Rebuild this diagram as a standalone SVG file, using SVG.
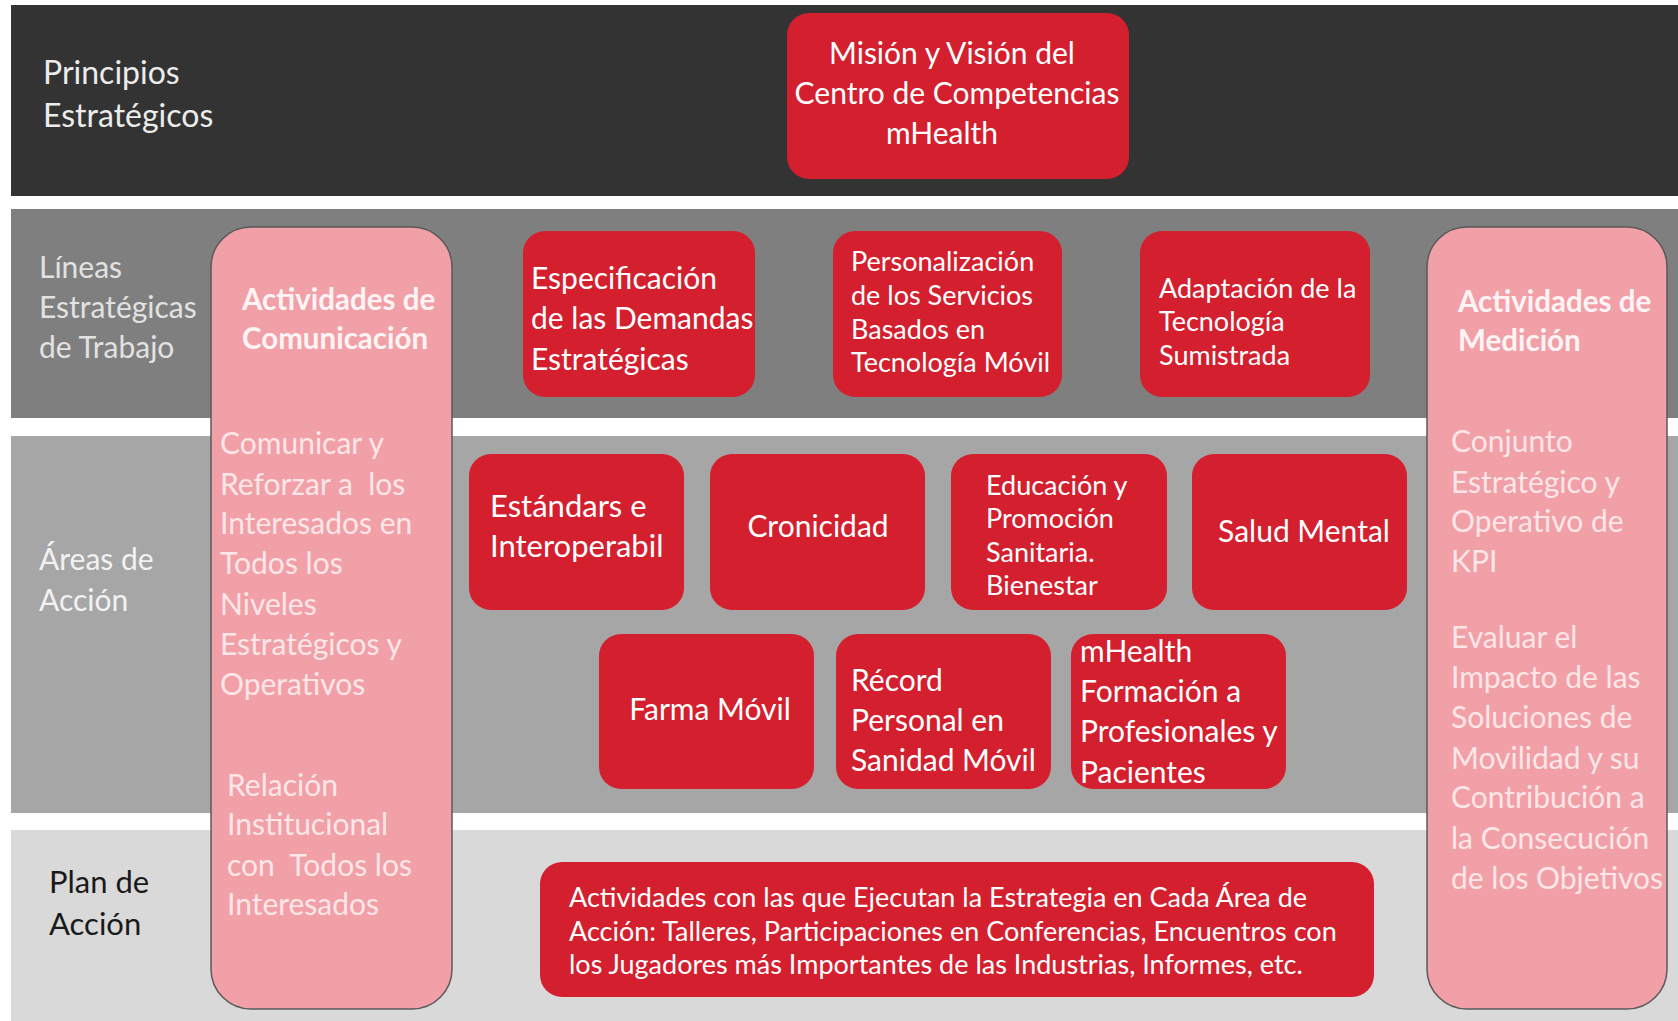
<svg xmlns="http://www.w3.org/2000/svg" width="1678" height="1021" viewBox="0 0 1678 1021">
<style>
text{font-family:Lato,"Liberation Sans",sans-serif;}
.band-label{font-size:30px;fill:#ececec;}
.dark-label{font-size:31px;fill:#1a1a1a;}
.red{fill:#d41f2e;}
.pink{fill:#f2a0a7;stroke:#5a5a5a;stroke-width:1.5;}
.wt{fill:#ffffff;font-size:30px;}
.ws{fill:#ffffff;font-size:27px;}
.ph{fill:#fff4f5;font-size:29.5px;font-weight:bold;}
.pb{fill:#fde6e8;font-size:30px;}
.c{text-anchor:middle;}
</style>
<rect width="1678" height="1021" fill="#ffffff"/>
<g id="bands">
<rect x="11" y="5" width="1667" height="191" fill="#333333"/>
<rect x="11" y="209" width="1667" height="209" fill="#7f7f7f"/>
<rect x="11" y="436" width="1667" height="377" fill="#a6a6a6"/>
<rect x="11" y="830" width="1667" height="191" fill="#d9d9d9"/>
</g>
<g id="labels">
<text class="band-label" style="font-size:32px"><tspan x="43" y="84">Principios</tspan><tspan x="43" y="127">Estratégicos</tspan></text>
<text class="band-label" style="fill:#e2e2e2"><tspan x="39" y="278">Líneas</tspan><tspan x="39" y="318">Estratégicas</tspan><tspan x="39" y="358">de Trabajo</tspan></text>
<text class="band-label" style="fill:#f2f2f2"><tspan x="39" y="570">Áreas de</tspan><tspan x="39" y="611">Acción</tspan></text>
<text class="dark-label"><tspan x="49" y="893">Plan de</tspan><tspan x="49" y="935">Acción</tspan></text>
</g>
<g id="mision">
<rect class="red" x="787" y="13" width="342" height="166" rx="22"/>
<text class="wt c"><tspan x="952" y="64">Misión y Visión del</tspan><tspan x="957" y="104">Centro de Competencias</tspan><tspan x="942" y="144">mHealth</tspan></text>
</g>
<g id="comunicacion">
<rect class="pink" x="211" y="227" width="241" height="782" rx="40"/>
<text class="ph"><tspan x="242" y="310">Actividades de</tspan><tspan x="242" y="349">Comunicación</tspan></text>
<text class="pb" xml:space="preserve"><tspan x="220" y="454">Comunicar y</tspan><tspan x="220" y="495">Reforzar a  los</tspan><tspan x="220" y="534">Interesados en</tspan><tspan x="220" y="574">Todos los</tspan><tspan x="220" y="615">Niveles</tspan><tspan x="220" y="655">Estratégicos y</tspan><tspan x="220" y="695">Operativos</tspan></text>
<text class="pb" xml:space="preserve"><tspan x="227" y="796">Relación</tspan><tspan x="227" y="835">Institucional</tspan><tspan x="227" y="876">con  Todos los</tspan><tspan x="227" y="915">Interesados</tspan></text>
</g>
<g id="medicion">
<rect class="pink" x="1427" y="227" width="240" height="782" rx="40"/>
<text class="ph"><tspan x="1458" y="312">Actividades de</tspan><tspan x="1458" y="351">Medición</tspan></text>
<text class="pb"><tspan x="1451" y="452">Conjunto</tspan><tspan x="1451" y="493">Estratégico y</tspan><tspan x="1451" y="532">Operativo de</tspan><tspan x="1451" y="572">KPI</tspan></text>
<text class="pb"><tspan x="1451" y="648">Evaluar el</tspan><tspan x="1451" y="688">Impacto de las</tspan><tspan x="1451" y="728">Soluciones de</tspan><tspan x="1451" y="769">Movilidad y su</tspan><tspan x="1451" y="808">Contribución a</tspan><tspan x="1451" y="849">la Consecución</tspan><tspan x="1451" y="889">de los Objetivos</tspan></text>
</g>
<g id="especificacion">
<rect class="red" x="523" y="231" width="232" height="166" rx="22"/>
<text class="wt"><tspan x="531" y="289">Especificación</tspan><tspan x="531" y="329">de las Demandas</tspan><tspan x="531" y="370">Estratégicas</tspan></text>
</g>
<g id="personalizacion">
<rect class="red" x="833" y="231" width="229" height="166" rx="22"/>
<text class="ws"><tspan x="851" y="271">Personalización</tspan><tspan x="851" y="305">de los Servicios</tspan><tspan x="851" y="339">Basados en</tspan><tspan x="851" y="372">Tecnología Móvil</tspan></text>
</g>
<g id="adaptacion">
<rect class="red" x="1140" y="231" width="230" height="166" rx="22"/>
<text class="ws"><tspan x="1159" y="298">Adaptación de la</tspan><tspan x="1159" y="331">Tecnología</tspan><tspan x="1159" y="365">Sumistrada</tspan></text>
</g>
<g id="estandars">
<rect class="red" x="469" y="454" width="215" height="156" rx="22"/>
<text class="wt" style="font-size:31px"><tspan x="490" y="517">Estándars e</tspan><tspan x="490" y="557">Interoperabil</tspan></text>
</g>
<g id="cronicidad">
<rect class="red" x="710" y="454" width="215" height="156" rx="22"/>
<text class="wt c" x="818" y="537">Cronicidad</text>
</g>
<g id="educacion">
<rect class="red" x="951" y="454" width="216" height="156" rx="22"/>
<text class="ws"><tspan x="986" y="495">Educación y</tspan><tspan x="986" y="528">Promoción</tspan><tspan x="986" y="562">Sanitaria.</tspan><tspan x="986" y="595">Bienestar</tspan></text>
</g>
<g id="salud-mental">
<rect class="red" x="1192" y="454" width="215" height="156" rx="22"/>
<text class="wt c" x="1304" y="542">Salud Mental</text>
</g>
<g id="farma-movil">
<rect class="red" x="599" y="634" width="215" height="155" rx="22"/>
<text class="wt c" x="710" y="720">Farma Móvil</text>
</g>
<g id="record">
<rect class="red" x="836" y="634" width="215" height="155" rx="22"/>
<text class="wt"><tspan x="851" y="691">Récord</tspan><tspan x="851" y="731">Personal en</tspan><tspan x="851" y="771">Sanidad Móvil</tspan></text>
</g>
<g id="formacion">
<rect class="red" x="1071" y="634" width="215" height="155" rx="22"/>
<text class="wt"><tspan x="1080" y="662">mHealth</tspan><tspan x="1080" y="702">Formación a</tspan><tspan x="1080" y="742">Profesionales y</tspan><tspan x="1080" y="783">Pacientes</tspan></text>
</g>
<g id="plan-accion">
<rect class="red" x="540" y="862" width="834" height="135" rx="22"/>
<text class="ws"><tspan x="569" y="907">Actividades con las que Ejecutan la Estrategia en Cada Área de</tspan><tspan x="569" y="941">Acción: Talleres, Participaciones en Conferencias, Encuentros con</tspan><tspan x="569" y="974">los Jugadores más Importantes de las Industrias, Informes, etc.</tspan></text>
</g>
<g id="connectors"/>
</svg>
